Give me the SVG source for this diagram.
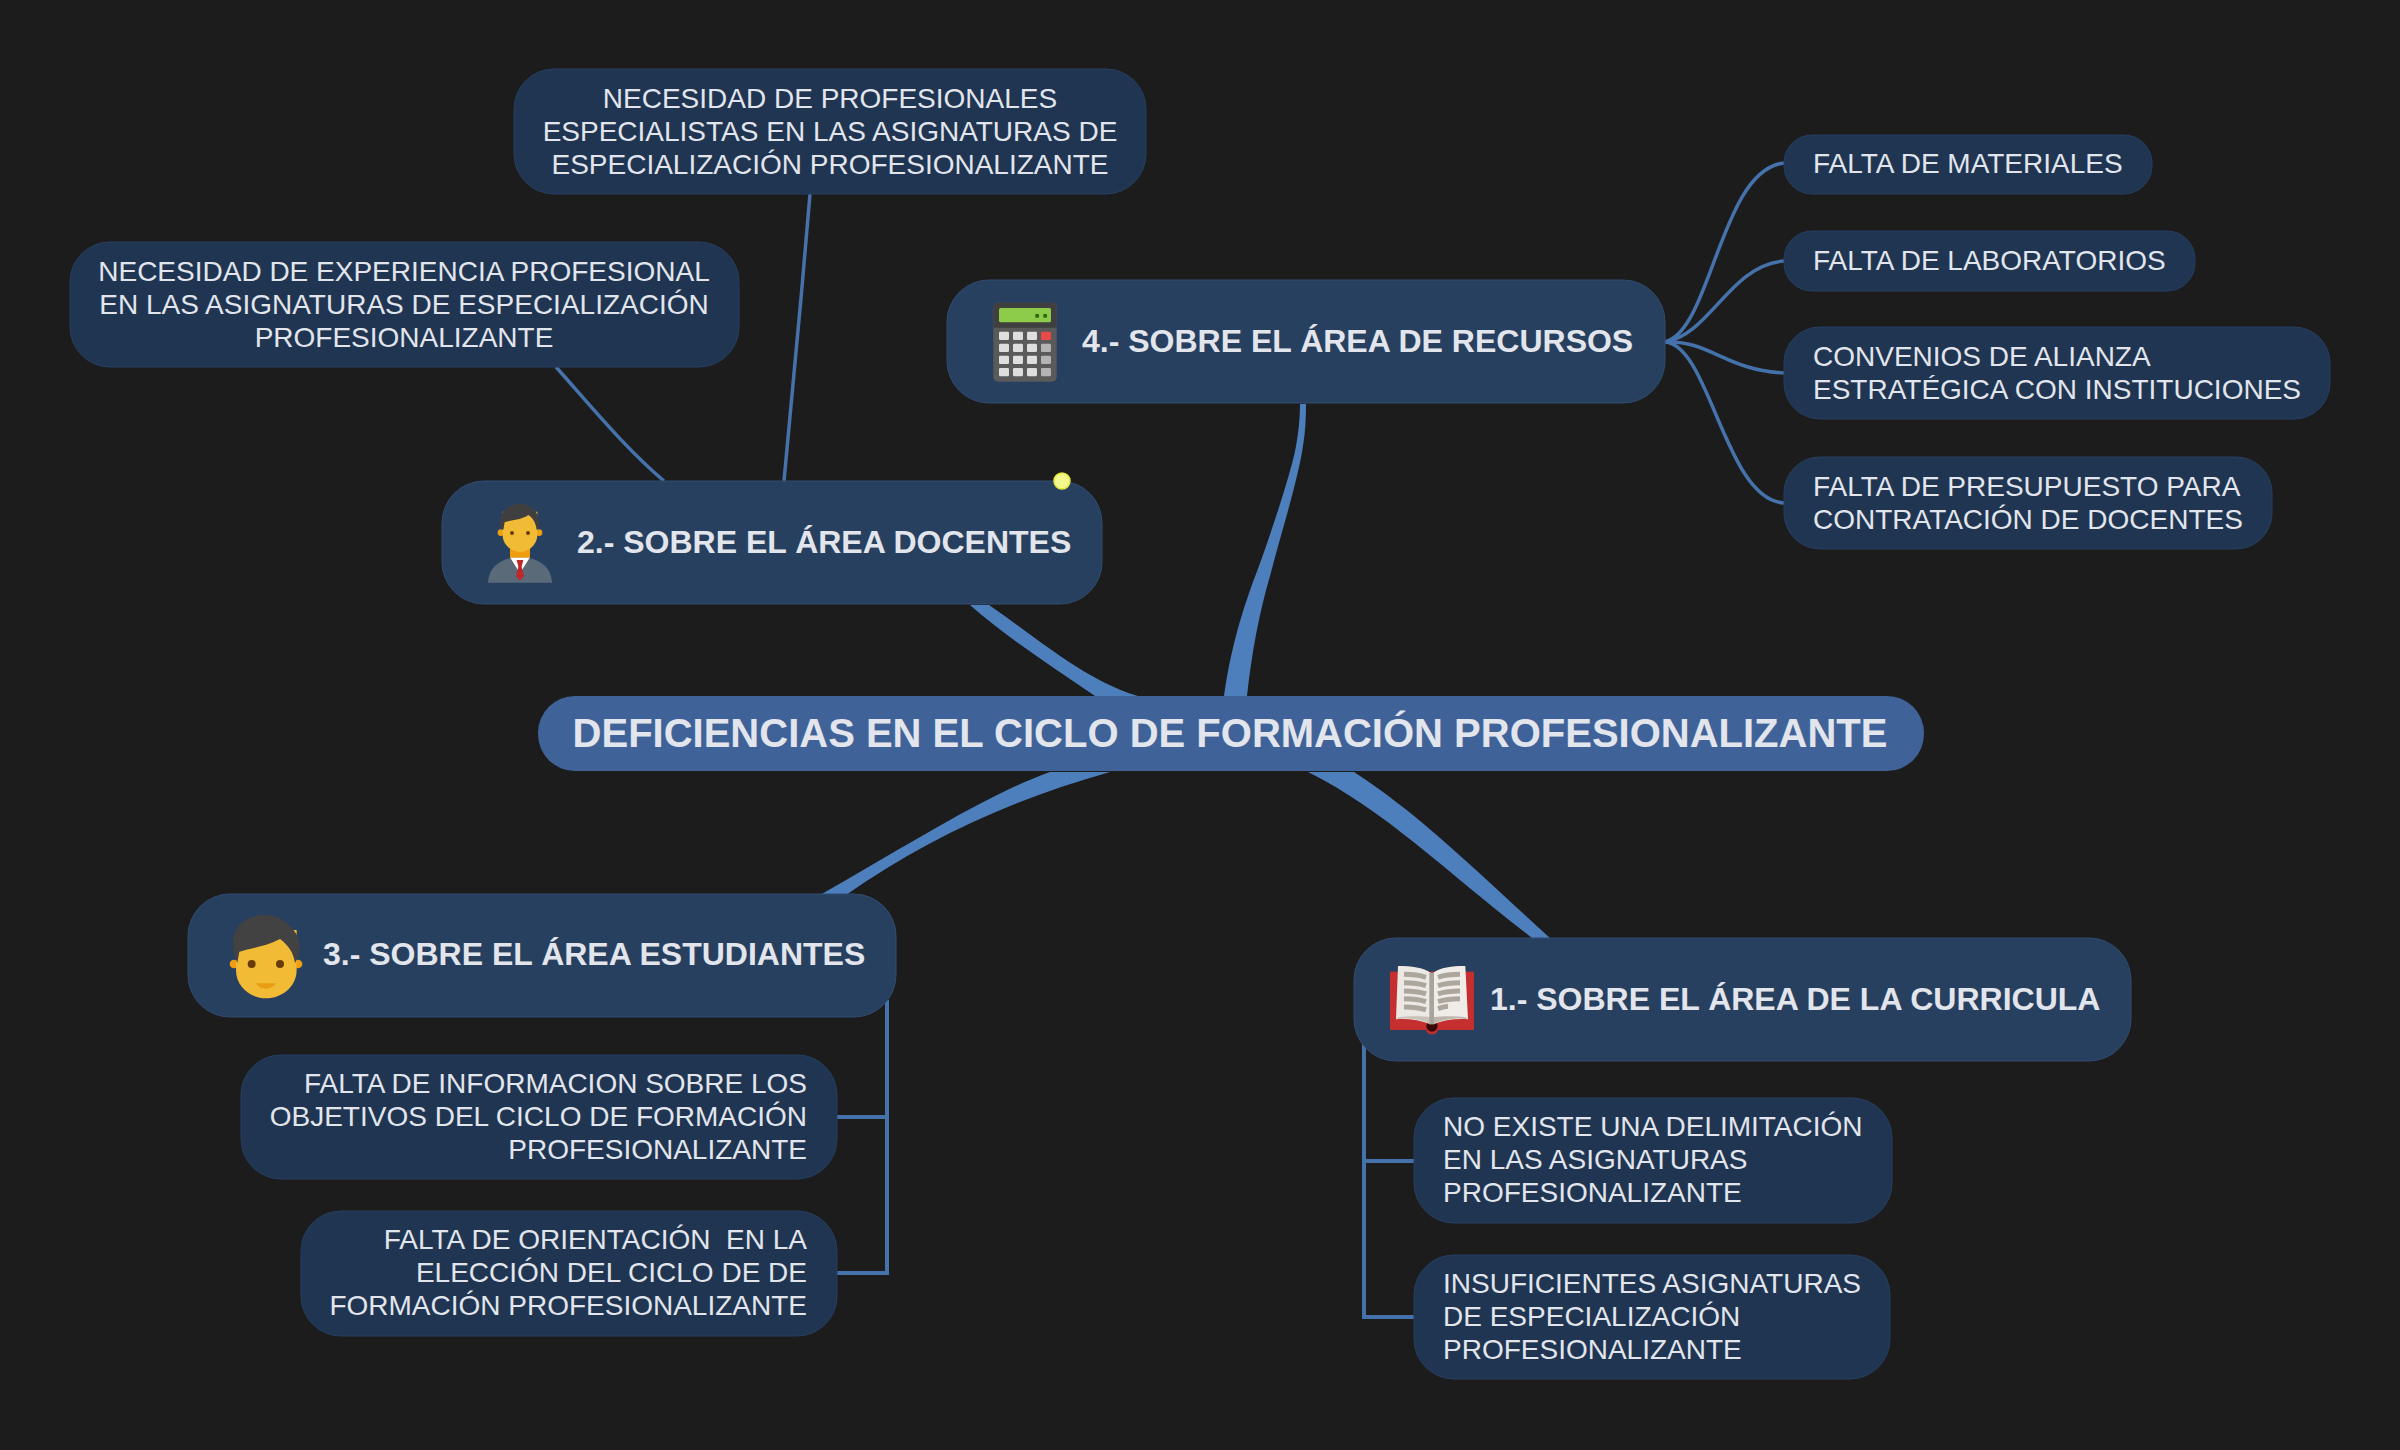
<svg xmlns="http://www.w3.org/2000/svg" width="2400" height="1450" viewBox="0 0 2400 1450">
<style>
text{font-family:"Liberation Sans",Arial,sans-serif;fill:#e2e5ec;font-kerning:normal}
.s{font-size:28px}
.t{font-size:32px;font-weight:bold}
.c{font-size:40px;font-weight:bold;text-anchor:middle}
.m{text-anchor:middle}
.e{text-anchor:end}
.sub{fill:#1f3552;stroke:#263f60;stroke-width:1}
.main{fill:#28405f;stroke:#304c70;stroke-width:1}
.thick{fill:#4d7fbd}
.thin{fill:none;stroke:#4572ab;stroke-width:3.5}
.bracket{fill:none;stroke:#4572ab;stroke-width:4}
</style>
<rect width="2400" height="1450" fill="#1c1c1c"/>
<g id="connectors">
<path class="thick" d="M1224 696C1232 640 1246 600 1259 566C1272 530 1292 470 1296 446C1299 430 1300 415 1300 404L1306 404C1306 420 1305 434 1303 446C1298 480 1282 530 1270 576C1260 610 1252 650 1247 696Z"/>
<path class="thick" d="M1095 696C1050 665 1010 640 970 605L989 605C1040 640 1085 680 1138 696Z"/>
<path class="thick" d="M1050 772C985 795 900 850 820 895L846 895C925 840 1010 800 1110 772Z"/>
<path class="thick" d="M1308 772C1385 810 1450 875 1532 938L1550 938C1470 865 1420 815 1354 772Z"/>
<path class="thin" d="M1665 342C1712 330 1720 170 1784 163"/>
<path class="thin" d="M1665 342C1710 335 1730 265 1784 261"/>
<path class="thin" d="M1665 342C1710 340 1725 370 1784 373"/>
<path class="thin" d="M1665 342C1710 345 1725 500 1784 503"/>
<path class="thin" d="M784 481C792 400 802 290 810 194"/>
<path class="thin" d="M664 481C625 448 590 405 556 367"/>
<path class="bracket" d="M887 1000V1273H837M887 1117H837"/>
<path class="bracket" d="M1364 1040V1317H1414M1364 1161H1414"/>
</g>
<g id="central"><rect x="538" y="696" width="1386" height="75" rx="37" fill="#3f6399"/>
<text class="c" x="1230" y="747">DEFICIENCIAS EN EL CICLO DE FORMACIÓN PROFESIONALIZANTE</text></g>
<g id="n4"><rect class="main" x="947" y="280" width="718" height="123" rx="42"/>
<g transform="translate(960 280) scale(.3333)">
<rect x="100" y="68" width="190" height="237" rx="14" fill="#5a5a5a"/><path d="M100 143V82a14 14 0 0 1 14-14h162a14 14 0 0 1 14 14v61z" fill="#3f3f3f"/>
<rect x="117" y="84" width="156" height="43" rx="5" fill="#8ccc4a"/><rect x="226" y="102" width="11" height="11" fill="#2c6a10"/><rect x="250" y="102" width="11" height="11" fill="#2c6a10"/>
<g fill="#dedede"><rect x="117" y="155" width="30" height="25" rx="4"/><rect x="159" y="155" width="30" height="25" rx="4"/><rect x="201" y="155" width="30" height="25" rx="4"/>
<rect x="117" y="191" width="30" height="25" rx="4"/><rect x="159" y="191" width="30" height="25" rx="4"/><rect x="201" y="191" width="30" height="25" rx="4"/>
<rect x="117" y="227" width="30" height="25" rx="4"/><rect x="159" y="227" width="30" height="25" rx="4"/><rect x="201" y="227" width="30" height="25" rx="4"/>
<rect x="117" y="264" width="30" height="25" rx="4"/><rect x="159" y="264" width="30" height="25" rx="4"/><rect x="201" y="264" width="30" height="25" rx="4"/></g>
<rect x="243" y="155" width="30" height="25" rx="4" fill="#e84a4a"/>
<g fill="#b4b4b4"><rect x="243" y="191" width="30" height="25" rx="4"/><rect x="243" y="227" width="30" height="25" rx="4"/><rect x="243" y="264" width="30" height="25" rx="4"/></g>
</g>
<text class="t" x="1082" y="352">4.- SOBRE EL ÁREA DE RECURSOS</text></g>
<g id="n2"><rect class="main" x="442" y="481" width="660" height="123" rx="42"/>
<g transform="translate(420 470) scale(.3333)">
<path d="M204 338C206 290 245 262 300 262C355 262 394 290 396 338Z" fill="#5a6a78"/>
<path d="M270 262L300 310L330 262Z" fill="#fff"/><path d="M290 270H310L305 290L312 318L299 332L288 318L295 290Z" fill="#c0272d"/>
<rect x="270" y="225" width="60" height="38" fill="#f09d10"/>
<circle cx="243" cy="188" r="10" fill="#f09d10"/><circle cx="357" cy="188" r="10" fill="#f09d10"/>
<path d="M248 125H352V195C352 225 325 246 300 246C275 246 248 225 248 195Z" fill="#f2bb36"/>
<path d="M240 172C235 125 265 102 298 102C335 102 362 128 358 172L350 180C348 160 340 145 325 135C305 150 270 150 254 157L250 180Z" fill="#3f3f3f"/>
<circle cx="276" cy="189" r="6" fill="#6a3a08"/><circle cx="324" cy="189" r="6" fill="#6a3a08"/>
</g>
<text class="t" x="577" y="553">2.- SOBRE EL ÁREA DOCENTES</text></g>
<circle id="dot" cx="1062" cy="481" r="8" fill="#f4f78e" stroke="#e6ea3a" stroke-width="1.5"/>
<g id="n3"><rect class="main" x="188" y="894" width="708" height="123" rx="42"/>
<g transform="translate(180 890) scale(.3333)">
<circle cx="162" cy="222" r="13" fill="#f09d10"/><circle cx="354" cy="222" r="13" fill="#f09d10"/>
<path d="M168 120H350V240C350 290 305 325 258 325C211 325 168 290 168 240Z" fill="#f2bb36"/>
<path d="M172 218C150 175 155 120 190 95C225 68 290 68 320 100C360 130 370 175 345 220C342 190 325 165 300 147C260 168 215 175 178 185Z" fill="#424242"/>
<circle cx="215" cy="222" r="12" fill="#6a3a08"/><circle cx="300" cy="222" r="12" fill="#6a3a08"/>
<path d="M228 280H288C280 292 268 296 258 296C248 296 236 292 228 280Z" fill="#ea9c12"/>
</g>
<text class="t" x="323" y="965">3.- SOBRE EL ÁREA ESTUDIANTES</text></g>
<g id="n1"><rect class="main" x="1354" y="938" width="777" height="123" rx="42"/>
<g transform="translate(1340 930) scale(.3333)">
<rect x="150" y="125" width="252" height="175" fill="#c62f2f"/><path d="M258 298H294C292 310 285 313 276 313C267 313 260 310 258 298Z" fill="#c62f2f"/><circle cx="276" cy="288" r="17" fill="#3a0808"/>
<path d="M168 268L174 108C215 108 250 113 272 128V283C240 270 200 265 168 268Z" fill="#ece8e3"/>
<path d="M384 268L376 108C335 108 300 113 280 128V283C310 270 350 265 384 268Z" fill="#f0ece7"/>
<path d="M168 268C200 262 245 268 272 283V262C245 258 205 258 176 262Z" fill="#c9c2b8"/>
<path d="M384 268C352 262 307 268 280 283V262C307 258 347 258 376 262Z" fill="#bdb6ac"/>
<rect x="268" y="128" width="14" height="155" fill="#a8a39b"/>
<g fill="none" stroke="#aca69d" stroke-width="15"><path d="M192 133C215 133 240 136 258 142M192 158C215 158 240 161 258 167M192 183C215 183 240 186 258 192M192 206C215 206 240 209 258 215M192 231C215 231 240 234 258 240"/><path d="M360 133C337 133 312 136 294 142M360 158C337 158 312 161 294 167M360 183C337 183 312 186 294 192M360 206C337 206 312 209 294 215M324 229C315 230 305 232 294 236"/></g>
</g>
<text class="t" x="1490" y="1010">1.- SOBRE EL ÁREA DE LA CURRICULA</text></g>
<g id="s1"><rect class="sub" x="1784" y="135" width="368" height="59" rx="28"/><text class="s" x="1813" y="173">FALTA DE MATERIALES</text></g>
<g id="s2"><rect class="sub" x="1784" y="231" width="411" height="60" rx="28"/><text class="s" x="1813" y="270">FALTA DE LABORATORIOS</text></g>
<g id="s3"><rect class="sub" x="1784" y="327" width="546" height="92" rx="36"/><text class="s" x="1813" y="366">CONVENIOS DE ALIANZA</text><text class="s" x="1813" y="399">ESTRATÉGICA CON INSTITUCIONES</text></g>
<g id="s4"><rect class="sub" x="1784" y="457" width="488" height="92" rx="36"/><text class="s" x="1813" y="496">FALTA DE PRESUPUESTO PARA</text><text class="s" x="1813" y="529">CONTRATACIÓN DE DOCENTES</text></g>
<g id="s5"><rect class="sub" x="514" y="69" width="632" height="125" rx="40"/><text class="s m" x="830" y="108">NECESIDAD DE PROFESIONALES</text><text class="s m" x="830" y="141">ESPECIALISTAS EN LAS ASIGNATURAS DE</text><text class="s m" x="830" y="174">ESPECIALIZACIÓN PROFESIONALIZANTE</text></g>
<g id="s6"><rect class="sub" x="70" y="242" width="669" height="125" rx="40"/><text class="s m" x="404" y="281">NECESIDAD DE EXPERIENCIA PROFESIONAL</text><text class="s m" x="404" y="314">EN LAS ASIGNATURAS DE ESPECIALIZACIÓN</text><text class="s m" x="404" y="347">PROFESIONALIZANTE</text></g>
<g id="s7"><rect class="sub" x="241" y="1055" width="596" height="124" rx="40"/><text class="s e" x="807" y="1093">FALTA DE INFORMACION SOBRE LOS</text><text class="s e" x="807" y="1126">OBJETIVOS DEL CICLO DE FORMACIÓN</text><text class="s e" x="807" y="1159">PROFESIONALIZANTE</text></g>
<g id="s8"><rect class="sub" x="301" y="1211" width="536" height="125" rx="40"/><text class="s e" x="807" y="1249" xml:space="preserve">FALTA DE ORIENTACIÓN  EN LA</text><text class="s e" x="807" y="1282">ELECCIÓN DEL CICLO DE DE</text><text class="s e" x="807" y="1315">FORMACIÓN PROFESIONALIZANTE</text></g>
<g id="s9"><rect class="sub" x="1414" y="1098" width="478" height="125" rx="40"/><text class="s" x="1443" y="1136">NO EXISTE UNA DELIMITACIÓN</text><text class="s" x="1443" y="1169">EN LAS ASIGNATURAS</text><text class="s" x="1443" y="1202">PROFESIONALIZANTE</text></g>
<g id="s10"><rect class="sub" x="1414" y="1255" width="476" height="124" rx="40"/><text class="s" x="1443" y="1293">INSUFICIENTES ASIGNATURAS</text><text class="s" x="1443" y="1326">DE ESPECIALIZACIÓN</text><text class="s" x="1443" y="1359">PROFESIONALIZANTE</text></g>
</svg>
